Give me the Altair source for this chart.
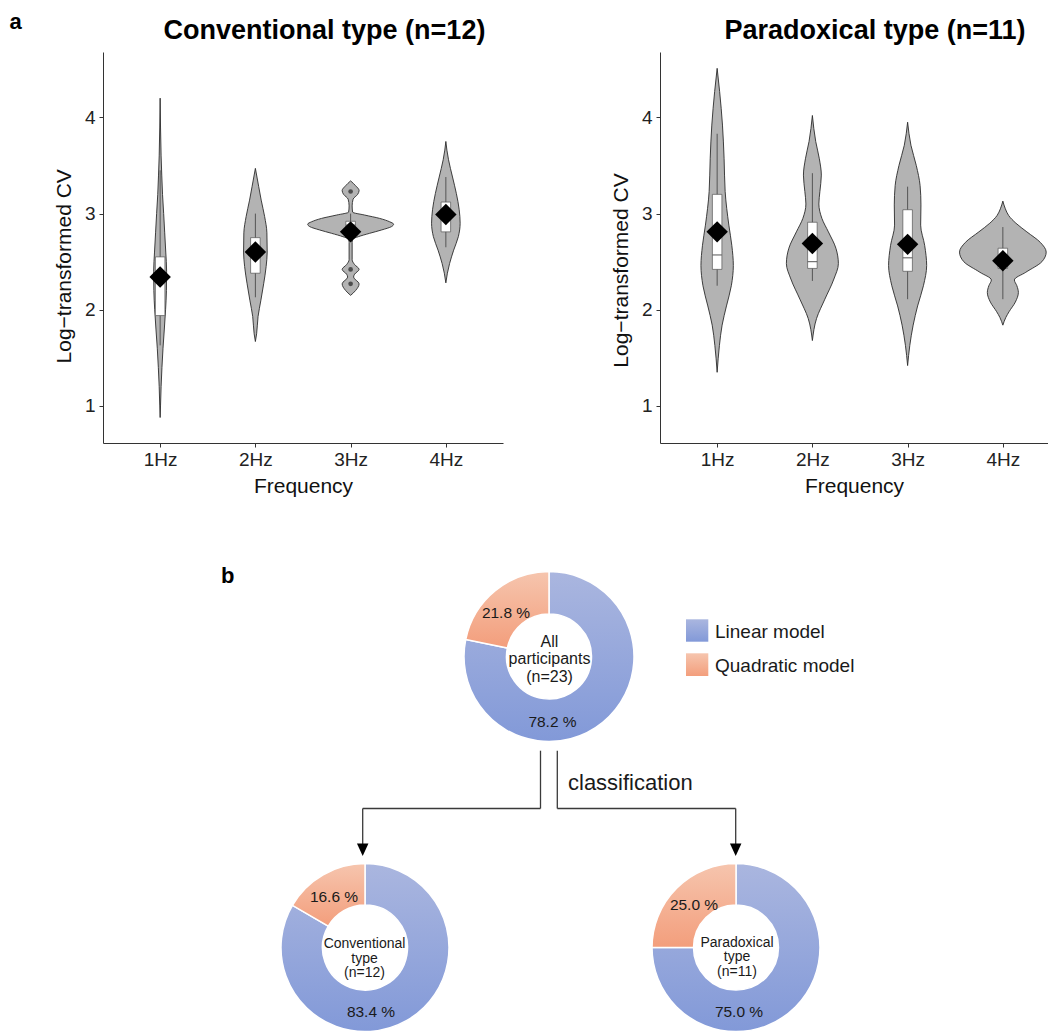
import altair as alt
import pandas as pd

FONT = "Liberation Sans"

# ---------------- data: panel a ----------------
freq_labels = ["1Hz", "2Hz", "3Hz", "4Hz"]

# violin outlines: level of log-transformed CV, half-width (fraction of category spacing)
conv_1hz_y = [0.88, 1.0, 1.2, 1.4, 1.6, 1.8, 2.0, 2.2, 2.4, 2.6, 2.8, 3.0, 3.2, 3.4, 3.6, 3.9, 4.2]
conv_1hz_w = [0, .004, .010, .019, .030, .044, .057, .066, .068, .059, .048, .037, .025, .017, .010, .004, 0]
conv_2hz_y = [1.67, 1.75, 1.93, 2.1, 2.27, 2.45, 2.6, 2.8, 2.97, 3.14, 3.28, 3.47]
conv_2hz_w = [0, .013, .028, .058, .087, .113, .124, .121, .097, .061, .035, 0]
conv_3hz_y = [2.15, 2.20, 2.27, 2.34, 2.37, 2.42, 2.47, 2.52, 2.70, 2.735, 2.76, 2.795, 2.83,
              2.865, 2.89, 2.915, 2.95, 2.985, 3.015, 3.08, 3.15, 3.20, 3.24, 3.29, 3.34]
conv_3hz_w = [0, .052, .089, .031, .042, .089, .042, .016, .016, .021, .081, .20, .326,
              .43, .451, .41, .305, .147, .021, .016, .026, .074, .089, .052, 0]
conv_4hz_y = [2.28, 2.38, 2.48, 2.62, 2.76, 2.90, 3.04, 3.21, 3.38, 3.56, 3.66, 3.75]
conv_4hz_w = [0, .016, .039, .082, .131, .150, .140, .110, .070, .028, .011, 0]

para_1hz_y = [1.35, 1.63, 1.84, 2.04, 2.25, 2.46, 2.67, 2.88, 3.23, 3.57, 3.92, 4.27, 4.51]
para_1hz_w = [0, .024, .052, .098, .149, .170, .154, .123, .084, .073, .056, .026, 0]
para_2hz_y = [1.68, 1.91, 2.11, 2.32, 2.48, 2.64, 2.81, 2.95, 3.1, 3.23, 3.40, 3.57, 3.75, 4.02]
para_2hz_w = [0, .044, .131, .226, .273, .247, .168, .100, .068, .079, .094, .073, .035, 0]
para_3hz_y = [1.42, 1.63, 1.84, 2.04, 2.25, 2.46, 2.67, 2.88, 3.09, 3.29, 3.50, 3.71, 3.95]
para_3hz_w = [0, .023, .058, .105, .166, .200, .179, .137, .140, .131, .091, .035, 0]
para_4hz_y = [1.84, 1.92, 1.98, 2.08, 2.18, 2.25, 2.31, 2.39, 2.50, 2.60, 2.70, 2.81, 2.90, 2.98, 3.05, 3.13]
para_4hz_w = [0, .031, .065, .131, .163, .147, .121, .241, .410, .455, .394, .252, .137, .061, .026, 0]

# box-plot statistics per frequency
conv_q1 = [1.94, 2.38, 2.83, 2.81]
conv_med = [2.30, 2.62, 2.88, 2.97]
conv_q3 = [2.55, 2.75, 2.92, 3.12]
conv_lo = [1.63, 2.13, 2.78, 2.65]
conv_hi = [3.45, 3.00, 3.00, 3.38]
conv_mean = [2.34, 2.60, 2.81, 2.99]
conv_outlier_freq = [3, 3, 3]
conv_outlier_val = [3.23, 2.42, 2.27]

para_q1 = [2.42, 2.43, 2.40, 2.43]
para_med = [2.57, 2.50, 2.54, 2.55]
para_q3 = [3.20, 2.91, 3.04, 2.64]
para_lo = [2.25, 2.30, 2.11, 2.11]
para_hi = [3.83, 3.42, 3.28, 2.86]
para_mean = [2.81, 2.69, 2.68, 2.51]

# ---------------- data: panel b ----------------
group_names = ["All participants", "Conventional type", "Paradoxical type"]
group_lines = [["All", "participants", "(n=23)"],
               ["Conventional", "type", "(n=12)"],
               ["Paradoxical", "type", "(n=11)"]]
model_names = ["Linear model", "Quadratic model"]
linear_pct = [78.2, 83.4, 75.0]
quadratic_pct = [21.8, 16.6, 25.0]

# ---------------- layout ----------------
LEFT_W, RIGHT_W, PLOT_H = 400, 388, 391
UNIT = LEFT_W / 4.2
RIGHT_XMAX = 0.4 + RIGHT_W / UNIT
Y_DOMAIN = [0.615, 4.68]
BOX_HALF = 0.05
OX, OY = 103, 52          # page position of left plot origin


def rx(x):
    return x - OX


def ry(y):
    return y - OY


one = pd.DataFrame({"k": [0]})


def violin_df(ys, ws):
    rows = []
    for i, (yy, ww) in enumerate(zip(ys, ws)):
        for y, w in zip(yy, ww):
            rows.append({"g": i + 1, "val": y, "lo": i + 1 - w, "hi": i + 1 + w})
    return pd.DataFrame(rows)


def stats_df(q1, med, q3, lo, hi, mean):
    pos = [1, 2, 3, 4]
    return pd.DataFrame({"pos": pos, "q1": q1, "med": med, "q3": q3, "lo": lo, "hi": hi,
                         "mean": mean, "bl": [p - BOX_HALF for p in pos],
                         "br": [p + BOX_HALF for p in pos]})


label_expr = "[" + ",".join("'%s'" % l for l in freq_labels) + "][datum.value - 1]"


def make_panel(vdf, sdf, odf, width, xmax, title, title_x, ytitle_y):
    xs = alt.Scale(domain=[0.4, xmax], nice=False, zero=False)
    ys = alt.Scale(domain=Y_DOMAIN, nice=False, zero=False)
    xa = alt.Axis(values=[1, 2, 3, 4], labelExpr=label_expr, title="Frequency",
                  labelPadding=3, titlePadding=6, labelFlush=False)
    ya = alt.Axis(values=[1, 2, 3, 4], title="Log\u2212transformed CV",
                  labelPadding=4, titlePadding=10, titleY=ytitle_y)

    def X(f):
        return alt.X(f, scale=xs, axis=xa)

    def Y(f):
        return alt.Y(f, scale=ys, axis=ya)

    layers = [
        alt.Chart(vdf).mark_area(orient="horizontal", interpolate="monotone", fill="#b3b3b3",
                                 stroke="#2b2b2b", strokeWidth=0.9, opacity=1).encode(
            y=Y("val:Q"), x=X("lo:Q"), x2="hi:Q", detail="g:N"),
        alt.Chart(sdf).mark_rule(color="#555555", strokeWidth=1).encode(
            x=X("pos:Q"), y=Y("lo:Q"), y2="hi:Q"),
        alt.Chart(sdf).mark_rect(fill="white", stroke="#555555", strokeWidth=0.7).encode(
            x=X("bl:Q"), x2="br:Q", y=Y("q1:Q"), y2="q3:Q"),
        alt.Chart(sdf).mark_rule(color="#555555", strokeWidth=1).encode(
            x=X("bl:Q"), x2="br:Q", y=Y("med:Q")),
    ]
    if odf is not None:
        layers.append(alt.Chart(odf).mark_circle(color="#4d4d4d", size=22, opacity=1).encode(
            x=X("pos:Q"), y=Y("val:Q")))
    layers.append(alt.Chart(sdf).mark_point(shape="diamond", filled=True, color="black",
                                            size=460, opacity=1).encode(
        x=X("pos:Q"), y=Y("mean:Q")))
    layers.append(alt.Chart(one).mark_text(text=title, font=FONT, fontSize=27, fontWeight="bold",
                                           align="center", baseline="alphabetic", color="black").encode(
        x=alt.value(title_x), y=alt.value(-13.5)))
    return layers


conv_v = violin_df([conv_1hz_y, conv_2hz_y, conv_3hz_y, conv_4hz_y],
                   [conv_1hz_w, conv_2hz_w, conv_3hz_w, conv_4hz_w])
para_v = violin_df([para_1hz_y, para_2hz_y, para_3hz_y, para_4hz_y],
                   [para_1hz_w, para_2hz_w, para_3hz_w, para_4hz_w])
conv_s = stats_df(conv_q1, conv_med, conv_q3, conv_lo, conv_hi, conv_mean)
para_s = stats_df(para_q1, para_med, para_q3, para_lo, para_hi, para_mean)
conv_o = pd.DataFrame({"pos": conv_outlier_freq, "val": conv_outlier_val})

left_layers = make_panel(conv_v, conv_s, conv_o, LEFT_W, 4.6, "Conventional type (n=12)",
                         rx(324.5), 213.8)
right_layers = make_panel(para_v, para_s, None, RIGHT_W, RIGHT_XMAX, "Paradoxical type (n=11)",
                          875 - 660, 218)

# invisible corner anchor: fixes the figure's top-left corner at the page origin
left_layers.append(alt.Chart(one).mark_rect(opacity=0).encode(
    x=alt.value(rx(8)), x2=alt.value(rx(9)), y=alt.value(ry(8)), y2=alt.value(ry(9))))

# panel label "a"
left_layers.append(alt.Chart(one).mark_text(text="a", font=FONT, fontSize=22, fontWeight="bold",
                                            align="left", baseline="alphabetic", color="black").encode(
    x=alt.value(rx(9.5)), y=alt.value(ry(28.5))))

# ---------------- panel b (drawn in the left view, outside its plot area) ----------------
blue_grad = alt.LinearGradient(gradient="linear", x1=0, x2=0, y1=0, y2=1,
                               stops=[alt.GradientStop(color="#aab6df", offset=0),
                                      alt.GradientStop(color="#8299d8", offset=1)])
orange_grad = alt.LinearGradient(gradient="linear", x1=0, x2=0, y1=0, y2=1,
                                 stops=[alt.GradientStop(color="#f6c5ae", offset=0),
                                        alt.GradientStop(color="#f39e7c", offset=1)])
model_fill = {model_names[0]: blue_grad, model_names[1]: orange_grad}

rows = []
for g, lp, qp in zip(group_names, linear_pct, quadratic_pct):
    rows.append({"group": g, "model": model_names[0], "pct": lp, "ord": 0})
    rows.append({"group": g, "model": model_names[1], "pct": qp, "ord": 1})
pie_df = pd.DataFrame(rows)

donut_center = [(549, 656.5), (365, 947.6), (736, 947.6)]
donut_outer = [85, 84, 84]
donut_inner = 42.5
center_base = [(549.5, 646.7, 16, 17.5), (364.5, 948.3, 14, 14.5), (737, 946.7, 14, 14.7)]
pct_pos = [((506, 618.3), (552.5, 726.7)),
           ((334, 901.7), (371, 1016.7)),
           ((694, 910.0), (739, 1016.7))]

theta_scale = alt.Scale(domain=[0, 100])
for gi, g in enumerate(group_names):
    cx, cy = donut_center[gi]
    for m in model_names:
        left_layers.append(
            alt.Chart(pie_df)
            .transform_window(cum="sum(pct)", groupby=["group"], sort=[alt.SortField("ord")],
                              frame=[None, 0])
            .transform_calculate(start="datum.cum - datum.pct")
            .transform_filter((alt.datum.group == g) & (alt.datum.model == m))
            .mark_arc(radius=donut_outer[gi], radius2=donut_inner, fill=model_fill[m],
                      stroke="white", strokeWidth=1.5)
            .encode(theta=alt.Theta("start:Q", scale=theta_scale), theta2="cum:Q",
                    x=alt.value(rx(cx)), y=alt.value(ry(cy)))
        )
    tx, tyb, fs, lh = center_base[gi]
    left_layers.append(alt.Chart(one).mark_text(text=group_lines[gi], font=FONT, fontSize=fs,
                                                lineHeight=lh, align="center", baseline="alphabetic",
                                                color="#1a1a1a").encode(
        x=alt.value(rx(tx)), y=alt.value(ry(tyb))))
    (qx, qy), (lx, ly) = pct_pos[gi]
    left_layers.append(alt.Chart(one).mark_text(text="%.1f %%" % quadratic_pct[gi], font=FONT,
                                                fontSize=15.5, align="center", baseline="alphabetic",
                                                color="#1a1a1a").encode(
        x=alt.value(rx(qx)), y=alt.value(ry(qy))))
    left_layers.append(alt.Chart(one).mark_text(text="%.1f %%" % linear_pct[gi], font=FONT,
                                                fontSize=15.5, align="center", baseline="alphabetic",
                                                color="#1a1a1a").encode(
        x=alt.value(rx(lx)), y=alt.value(ry(ly))))

# legend
legend_rows = [(619.3, 641.7, 638.3), (653.3, 676.0, 672.0)]
for m, (y1, y2, tb) in zip(model_names, legend_rows):
    left_layers.append(alt.Chart(one).mark_rect(fill=model_fill[m]).encode(
        x=alt.value(rx(686)), x2=alt.value(rx(708.3)), y=alt.value(ry(y1)), y2=alt.value(ry(y2))))
    left_layers.append(alt.Chart(one).mark_text(text=m, font=FONT, fontSize=19, align="left",
                                                baseline="alphabetic", color="#1a1a1a").encode(
        x=alt.value(rx(715)), y=alt.value(ry(tb))))

# connectors
LINE = dict(color="#3a3a3a", strokeWidth=1.3)
vsegs = [(540.5, 750.7, 808.5), (557.3, 750.7, 808.5), (362.7, 808.5, 845), (735.7, 808.5, 845)]
hsegs = [(808.5, 362.7, 540.5), (808.5, 557.3, 735.7)]
for x, y1, y2 in vsegs:
    left_layers.append(alt.Chart(one).mark_rule(**LINE).encode(
        x=alt.value(rx(x)), y=alt.value(ry(y1)), y2=alt.value(ry(y2))))
for y, x1, x2 in hsegs:
    left_layers.append(alt.Chart(one).mark_rule(**LINE).encode(
        y=alt.value(ry(y)), x=alt.value(rx(x1)), x2=alt.value(rx(x2))))
for x in (362.7, 735.7):
    left_layers.append(alt.Chart(one).mark_point(shape="M-1,-1.1L1,-1.1L0,1.1Z", filled=True,
                                                 color="black", size=132, opacity=1).encode(
        x=alt.value(rx(x)), y=alt.value(ry(849.7))))
left_layers.append(alt.Chart(one).mark_text(text="classification", font=FONT, fontSize=22,
                                            align="left", baseline="alphabetic",
                                            color="#1a1a1a").encode(
    x=alt.value(rx(568)), y=alt.value(ry(790))))

# panel label "b"
left_layers.append(alt.Chart(one).mark_text(text="b", font=FONT, fontSize=22, fontWeight="bold",
                                            align="left", baseline="alphabetic", color="black").encode(
    x=alt.value(rx(221)), y=alt.value(ry(583))))

left = alt.layer(*left_layers).properties(width=LEFT_W, height=PLOT_H)
right = alt.layer(*right_layers).properties(width=RIGHT_W, height=PLOT_H)

chart = (
    alt.hconcat(left, right, spacing=157, bounds="flush")
    .properties(padding={"left": 0, "top": 0, "right": 0, "bottom": 0})
    .configure_view(stroke=None)
    .configure_axis(grid=False, domainColor="#333333", domainWidth=1, tickColor="#333333",
                    tickWidth=1, tickSize=4, labelFont=FONT, labelFontSize=19, labelColor="#222222",
                    titleFont=FONT, titleFontSize=21, titleFontWeight="normal", titleColor="#111111")
)

chart.save("out.html", embed_options={"renderer": "svg", "actions": False})
